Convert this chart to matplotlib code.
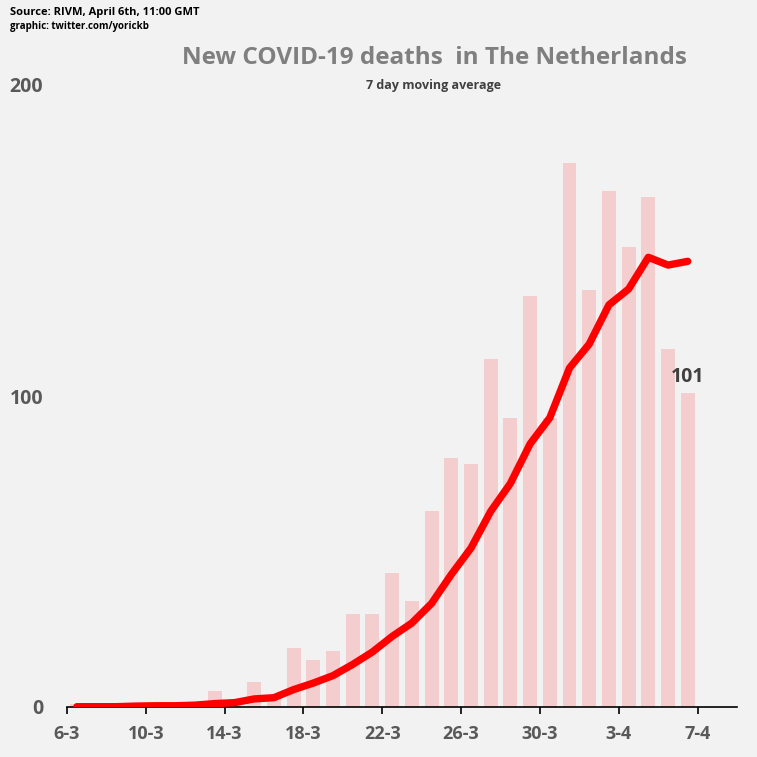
import numpy as np
import matplotlib
matplotlib.use("Agg")
import matplotlib.pyplot as plt

plt.rcParams['font.family'] = ['Open Sans', 'DejaVu Sans']

# daily new deaths, 6-3 .. 6-4
days = list(range(32))
deaths = [1, 0, 0, 1, 1, 0, 1, 5, 2, 8, 4, 19, 15, 18, 30, 30,
          43, 34, 63, 80, 78, 112, 93, 132, 93, 175, 134, 166, 148, 164, 115, 101]
# 7 day moving average
avg7 = [0.1, 0.1, 0.1, 0.3, 0.4, 0.4, 0.6, 1.1, 1.4, 2.6, 3.0, 5.6, 7.7, 10.1, 13.7, 17.7,
        22.7, 27.0, 33.3, 42.6, 51.1, 62.9, 71.9, 84.6, 93.0, 109.0, 116.7, 129.3, 134.4, 144.6, 142.1, 143.3]
tick_pos = [0, 4, 8, 12, 16, 20, 24, 28, 32]
tick_labels = ["6-3", "10-3", "14-3", "18-3", "22-3", "26-3", "30-3", "3-4", "7-4"]

bg = "#f2f2f2"
fig = plt.figure(figsize=(7.57, 7.57), dpi=100, facecolor=bg)
ax = fig.add_axes([67/757, 50/757, 670/757, 622/757])
ax.set_facecolor(bg)

x = np.array(days) + 0.5
ax.bar(x, deaths, width=0.71, color="#f4cdcf", zorder=1)
ax.plot(x, avg7, color="#ff0000", lw=5.3, solid_capstyle="round", solid_joinstyle="round", zorder=3)
ax.text(x[-1], 106, "101", ha="center", va="center", fontsize=14, fontweight="bold", color="#404040")

ax.set_xlim(0, 34)
ax.set_ylim(0, 200)
ax.set_xticks(tick_pos)
ax.set_xticklabels(tick_labels)
ax.set_yticks([0, 100, 200])
ax.set_yticklabels(["0", "100", "200"])
ax.tick_params(axis="x", length=5, width=1.2, direction="out", pad=8,
               labelsize=13, labelcolor="#595959", colors="black")
ax.tick_params(axis="y", length=0, pad=17, labelsize=14, labelcolor="#595959")
for lab in ax.get_xticklabels() + ax.get_yticklabels():
    lab.set_fontweight("bold")
    lab.set_color("#595959")
for s in ["top", "right", "left"]:
    ax.spines[s].set_visible(False)
ax.spines["bottom"].set_linewidth(1.2)

fig.text(434/757, 1 - 58/757, "New COVID-19 deaths  in The Netherlands", ha="center", va="center",
         fontsize=17.5, fontweight="bold", color="#7f7f7f")
fig.text(434/757, 1 - 85/757, "7 day moving average", ha="center", va="center",
         fontsize=9, fontweight="bold", color="#404040")
fig.text(10/757, 1 - 12/757, "Source: RIVM, April 6th, 11:00 GMT", ha="left", va="center",
         fontsize=8, fontweight="bold", color="black")
fig.text(10/757, 1 - 26/757, "graphic: twitter.com/yorickb", ha="left", va="center",
         fontsize=7, fontweight="bold", color="black")

fig.savefig("out.png", dpi=100, facecolor=bg)
